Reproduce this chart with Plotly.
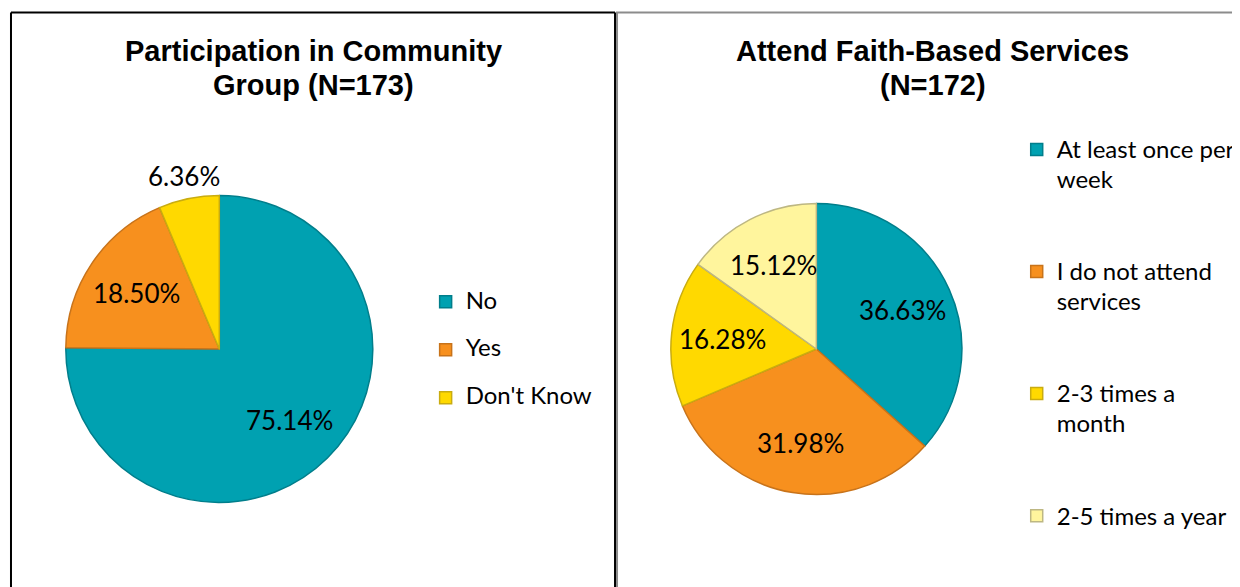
import math
import plotly.graph_objects as go

# ---- data ----
left_title = ["Participation in Community", "Group (N=173)"]
left_labels = ["No", "Yes", "Don't Know"]
left_values = [75.14, 18.50, 6.36]
left_label_pos = ["inside", "inside", "outside"]

right_title = ["Attend Faith-Based Services", "(N=172)"]
right_labels = [["At least once per", "week"], ["I do not attend", "services"],
                ["2-3 times a", "month"], ["2-5 times a year"]]
right_values = [36.63, 31.98, 16.28, 15.12]
right_label_pos = ["inside", "inside", "inside", "inside"]

# ---- styles ----
# the page body keeps its default 8px margin, so the figure is 8px smaller
PAGE_W, PAGE_H = 1240, 587
OFF = 8
W, H = PAGE_W - OFF, PAGE_H - OFF
TEAL, TEAL_D = "#00A1B1", "#007E8B"
ORANGE, ORANGE_D = "#F7901E", "#C8731A"
YELLOW, YELLOW_D = "#FFD900", "#C9AC10"
LYELLOW, LYELLOW_D = "#FFF59D", "#BDB783"
LABEL_FONT = "Lato"
TITLE_FONT = "Liberation Sans"
TXT = 24
PCT = 26

# pie boxes in page pixels (left, top, right, bottom)
LEFT_BOX = (66, 195, 374, 503)
RIGHT_BOX = (673, 203, 965, 495)


def px_x(p):
    return (p - OFF) / W


def px_y(p):
    return 1 - (p - OFF) / H


def span(t):
    return f"<span style='font-size:{TXT}px'>{t}</span>"


def domain(box):
    l, t, r, b = box
    return dict(x=[px_x(l), px_x(r)], y=[px_y(b), px_y(t)])


def pct_annotations(values, positions, box):
    l, t, r, b = box
    cx, cy = (l + r) / 2, (t + b) / 2
    rad = min(r - l, b - t) / 2
    total = sum(values)
    out, cum = [], 0.0
    for v, pos in zip(values, positions):
        mid = (cum + v / 2) / total * 2 * math.pi
        cum += v
        dist = rad * 0.65 if pos == "inside" else rad + 23
        x = cx + math.sin(mid) * dist
        y = cy - math.cos(mid) * dist
        out.append(dict(text=f"{v:.2f}%", x=px_x(x), y=px_y(y), xref="paper",
                        yref="paper", showarrow=False, xanchor="center",
                        yanchor="middle",
                        font=dict(family=LABEL_FONT, size=PCT, color="black")))
    return out


left_legend_text = [span(l) + "<br> " for l in left_labels]
right_legend_text = []
for i, lines in enumerate(right_labels):
    parts = [span(s) for s in lines]
    if i < len(right_labels) - 1:
        while len(parts) < 4:
            parts.append(" ")
    right_legend_text.append("<br>".join(parts))

fig = go.Figure()

fig.add_trace(go.Pie(
    labels=left_legend_text,
    values=left_values,
    sort=False, direction="clockwise", rotation=0,
    marker=dict(colors=[TEAL, ORANGE, YELLOW],
                line=dict(color=[TEAL_D, ORANGE_D, YELLOW_D], width=1.5)),
    textinfo="none",
    hoverinfo="skip",
    domain=domain(LEFT_BOX),
    legend="legend",
))

fig.add_trace(go.Pie(
    labels=right_legend_text,
    values=right_values,
    sort=False, direction="clockwise", rotation=0,
    marker=dict(colors=[TEAL, ORANGE, YELLOW, LYELLOW],
                line=dict(color=[TEAL_D, ORANGE_D, YELLOW_D, LYELLOW_D], width=1.5)),
    textinfo="none",
    hoverinfo="skip",
    domain=domain(RIGHT_BOX),
    legend="legend2",
))

annotations = []
annotations += pct_annotations(left_values, left_label_pos, LEFT_BOX)
annotations += pct_annotations(right_values, right_label_pos, RIGHT_BOX)
for i, t in enumerate(left_title):
    annotations.append(dict(text=f"<b>{t}</b>", x=px_x(314), y=px_y(51 + 34 * i),
                            xref="paper", yref="paper", showarrow=False,
                            xanchor="center", yanchor="middle",
                            font=dict(family=TITLE_FONT, size=29, color="black")))
for i, t in enumerate(right_title):
    annotations.append(dict(text=f"<b>{t}</b>", x=px_x(936), y=px_y(51 + 34 * i),
                            xref="paper", yref="paper", showarrow=False,
                            xanchor="center", yanchor="middle",
                            font=dict(family=TITLE_FONT, size=29, color="black")))


def seg(x0, y0, x1, y1, color):
    return dict(type="line", xref="paper", yref="paper",
                x0=px_x(x0), y0=px_y(y0), x1=px_x(x1), y1=px_y(y1),
                line=dict(color=color, width=2))


GRAY = "#8C8C8C"
shapes = [
    seg(11, 12.5, 617, 12.5, "black"),
    seg(11, 12.5, 11, PAGE_H, "black"),
    seg(617, 12.5, 617, PAGE_H, "black"),
    seg(618, 12.5, PAGE_W, 12.5, GRAY),
    seg(619, 12.5, 619, PAGE_H, GRAY),
]

fig.update_layout(
    width=W, height=H,
    margin=dict(l=0, r=0, t=0, b=0),
    paper_bgcolor="white", plot_bgcolor="white",
    annotations=annotations, shapes=shapes,
    legend=dict(x=px_x(427), y=px_y(284), xanchor="left", yanchor="top",
                font=dict(family=LABEL_FONT, size=17.3, color="black"),
                valign="top", bgcolor="rgba(0,0,0,0)", traceorder="normal"),
    legend2=dict(x=px_x(1020), y=px_y(128), xanchor="left", yanchor="top",
                 font=dict(family=LABEL_FONT, size=22.9, color="black"),
                 valign="top", bgcolor="rgba(0,0,0,0)", traceorder="normal"),
    showlegend=True,
)

fig.write_html("out.html", config={"displayModeBar": False})
